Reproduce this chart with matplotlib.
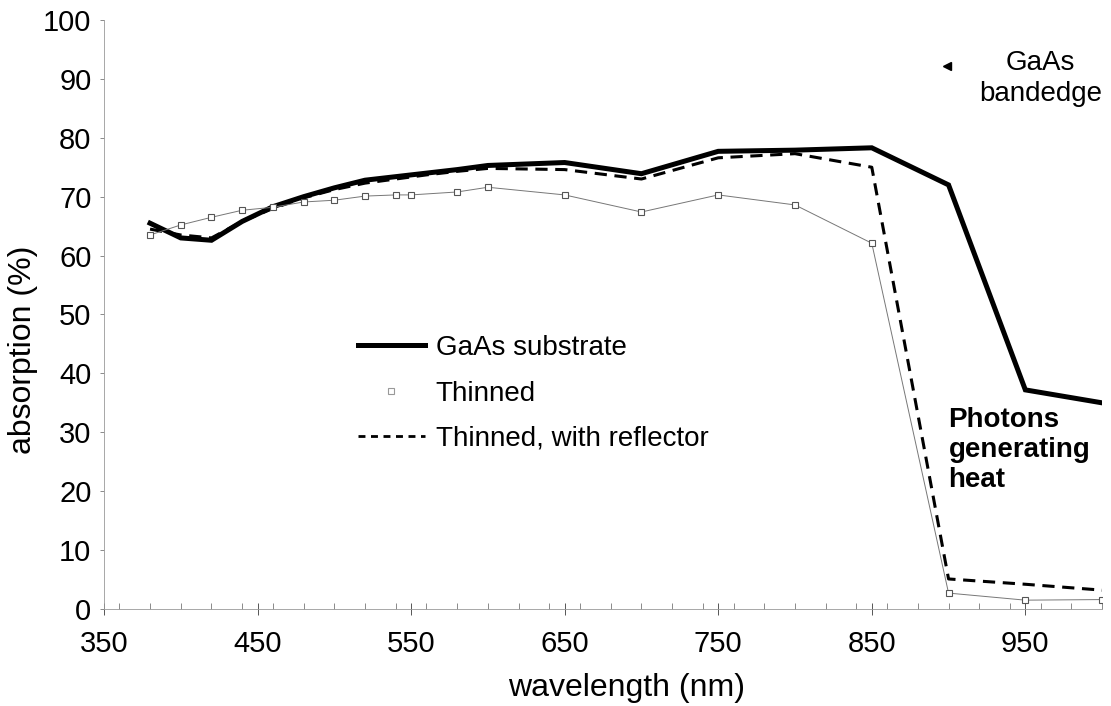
import matplotlib
matplotlib.use('Agg')
import matplotlib.pyplot as plt
from matplotlib import font_manager
from matplotlib.lines import Line2D
from matplotlib.ticker import MultipleLocator

# pick a narrow sans if it is there, like the scanned original
names = {f.name for f in font_manager.fontManager.ttflist}
if 'Liberation Sans Narrow' in names:
    plt.rcParams['font.family'] = ['Liberation Sans Narrow', 'DejaVu Sans']
else:
    plt.rcParams['font.family'] = ['Liberation Sans', 'DejaVu Sans']

# wavelength (nm)
wl = [380, 400, 420, 440, 460, 480, 500, 520, 540, 560, 580, 600,
      650, 700, 750, 800, 850, 900, 950, 1000]
substrate = [65.5, 63.0, 62.6, 65.8, 68.3, 70.0, 71.5, 72.8, 73.4, 74.0, 74.6, 75.3,
             75.8, 73.9, 77.7, 77.9, 78.3, 72.0, 37.2, 35.0]
reflector = [64.5, 63.5, 63.0, 65.8, 68.0, 69.8, 71.2, 72.3, 73.0, 73.7, 74.3, 74.8,
             74.6, 73.0, 76.6, 77.3, 75.0, 5.1, 4.2, 3.2]

wl_thin = [380, 400, 420, 440, 460, 480, 500, 520, 540, 550, 580, 600,
           650, 700, 750, 800, 850, 900, 950, 1000]
thinned = [63.5, 65.2, 66.5, 67.7, 68.2, 69.1, 69.4, 70.1, 70.3, 70.3, 70.8, 71.6,
           70.3, 67.4, 70.3, 68.6, 62.1, 2.7, 1.5, 1.6]

fig = plt.figure(figsize=(11.11, 7.06), dpi=100)
ax = fig.add_axes([0.0936, 0.1374, 0.8984, 0.8343])

ax.plot(wl, substrate, color='black', lw=3.6, solid_joinstyle='miter', zorder=3)
ax.plot(wl, reflector, color='black', lw=2.2, ls=(0, (4, 2.5)), zorder=4)
ax.plot(wl_thin, thinned, color='#777777', lw=0.7, marker='s', markersize=5,
        markerfacecolor='white', markeredgecolor='#555555', markeredgewidth=0.8, zorder=5)

ax.set_xlim(350, 1000)
ax.set_ylim(0, 100)
ax.xaxis.set_major_locator(MultipleLocator(100))
ax.xaxis.set_minor_locator(MultipleLocator(20))
ax.yaxis.set_major_locator(MultipleLocator(10))
ax.set_xticks(range(350, 1000, 100))

for s in ['top', 'right']:
    ax.spines[s].set_visible(False)
for s in ['left', 'bottom']:
    ax.spines[s].set_color('#999999')
    ax.spines[s].set_linewidth(0.6)

ax.tick_params(axis='x', which='major', direction='inout', length=8, width=0.7,
               color='#555555', labelsize=21, pad=11)
ax.tick_params(axis='x', which='minor', direction='in', length=4, width=0.6, color='#777777')
ax.tick_params(axis='y', which='major', direction='out', length=3, width=0.6,
               color='#777777', labelsize=21, pad=6)

ax.set_xlabel('wavelength (nm)', fontsize=23)
ax.set_ylabel('absorption (%)', fontsize=23)
ax.xaxis.set_label_coords(0.524, -0.108)
ax.yaxis.set_label_coords(-0.066, 0.44)

handles = [
    Line2D([], [], color='black', lw=3.6),
    Line2D([], [], ls='none', marker='s', markersize=5, markerfacecolor='white',
           markeredgecolor='#999999', markeredgewidth=0.8),
    Line2D([], [], color='black', lw=2.0, ls=(0, (2.5, 2))),
]
ax.legend(handles, ['GaAs substrate', 'Thinned', 'Thinned, with reflector'],
          loc='upper left', bbox_to_anchor=(0.2545, 0.465), frameon=False,
          fontsize=20, handlelength=2.4, handletextpad=0.4, labelspacing=0.7,
          borderpad=0, borderaxespad=0)

ax.plot([899], [92.2], marker='<', color='black', markersize=6, ls='none')
ax.text(960, 90, 'GaAs\nbandedge', fontsize=20, ha='center', va='center',
        linespacing=1.25)
ax.text(900, 27, 'Photons\ngenerating\nheat', fontsize=20, fontweight='bold',
        ha='left', va='center', linespacing=1.2)

fig.savefig('out.png', dpi=100)
